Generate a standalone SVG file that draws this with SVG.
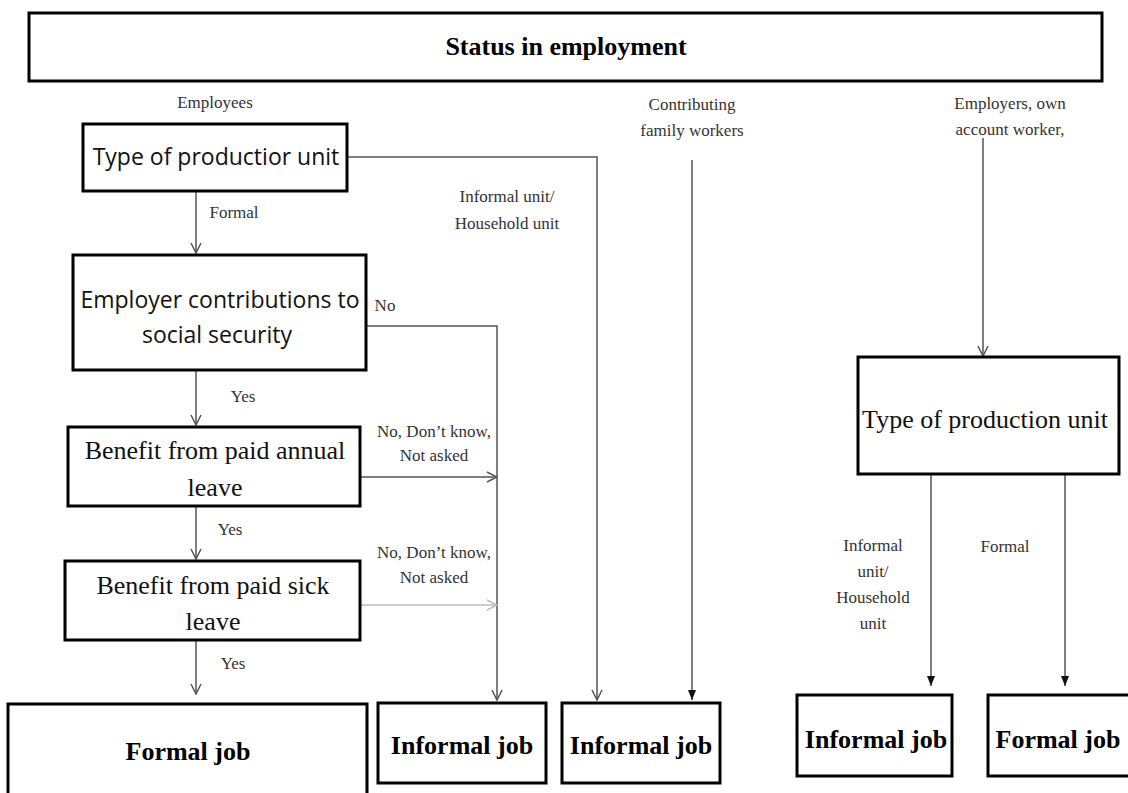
<svg xmlns="http://www.w3.org/2000/svg" width="1128" height="793" viewBox="0 0 1128 793">
<defs>
<style>
.box{fill:#fff;stroke:#000;stroke-width:3}
.ln{fill:none;stroke:#555;stroke-width:1.5}
.lt{fill:none;stroke:#bbb;stroke-width:1.5}
.lab{font-family:"Liberation Serif",serif;font-size:17px;fill:#333;text-anchor:middle}
.ser{font-family:"Liberation Serif",serif;font-size:26px;fill:#111;text-anchor:middle}
.san{font-family:"Open Sans","Liberation Sans",sans-serif;font-size:23px;fill:#111;text-anchor:middle}
.bold{font-family:"Liberation Serif",serif;font-size:26px;font-weight:bold;fill:#000;text-anchor:middle}
</style>
<marker id="open" viewBox="0 0 12 12" refX="11" refY="6" markerWidth="12" markerHeight="12" markerUnits="userSpaceOnUse" orient="auto">
<path d="M1,1 L11,6 L1,11" fill="none" stroke="#555" stroke-width="1.5"/>
</marker>
<marker id="openL" viewBox="0 0 12 12" refX="11" refY="6" markerWidth="12" markerHeight="12" markerUnits="userSpaceOnUse" orient="auto">
<path d="M1,1 L11,6 L1,11" fill="none" stroke="#bbb" stroke-width="1.5"/>
</marker>
<marker id="fill" viewBox="0 0 10 10" refX="10" refY="5" markerWidth="10" markerHeight="10" markerUnits="userSpaceOnUse" orient="auto">
<path d="M0,1 L10,5 L0,9 Z" fill="#111"/>
</marker>
</defs>
<rect width="1128" height="793" fill="#fff"/>

<g id="status">
<rect class="box" x="29" y="13" width="1073" height="68"/>
<text class="bold" x="566" y="55" font-size="25">Status in employment</text>
</g>

<g id="labels">
<text class="lab" x="215" y="108">Employees</text>
<text class="lab" x="234" y="218">Formal</text>
<text class="lab" x="385" y="311">No</text>
<text class="lab" x="507" y="202">Informal unit/</text>
<text class="lab" x="507" y="229">Household unit</text>
<text class="lab" x="692" y="110">Contributing</text>
<text class="lab" x="692" y="136">family workers</text>
<text class="lab" x="1010" y="109">Employers, own</text>
<text class="lab" x="1010" y="135">account worker,</text>
<text class="lab" x="243" y="402">Yes</text>
<text class="lab" x="434" y="437">No, Don’t know,</text>
<text class="lab" x="434" y="461">Not asked</text>
<text class="lab" x="230" y="535">Yes</text>
<text class="lab" x="434" y="558">No, Don’t know,</text>
<text class="lab" x="434" y="583">Not asked</text>
<text class="lab" x="233" y="669">Yes</text>
<text class="lab" x="873" y="551">Informal</text>
<text class="lab" x="873" y="577">unit/</text>
<text class="lab" x="873" y="603">Household</text>
<text class="lab" x="873" y="629">unit</text>
<text class="lab" x="1005" y="552">Formal</text>
</g>

<g id="connectors">
<path class="ln" d="M196,191 V253" marker-end="url(#open)"/>
<path class="ln" d="M347,157 H597 V700" marker-end="url(#open)"/>
<path class="ln" d="M366,326 H497 V700" marker-end="url(#open)"/>
<path class="ln" d="M692,160 V700" marker-end="url(#fill)"/>
<path class="ln" d="M983,138 V356" marker-end="url(#open)"/>
<path class="ln" d="M196,370 V425" marker-end="url(#open)"/>
<path class="ln" d="M360,477 H497" marker-end="url(#open)"/>
<path class="ln" d="M196,506 V559" marker-end="url(#open)"/>
<path class="lt" d="M360,605 H497" marker-end="url(#openL)"/>
<path class="ln" d="M196,640 V694" marker-end="url(#open)"/>
<path class="ln" d="M931,474 V686" marker-end="url(#fill)"/>
<path class="ln" d="M1065,474 V686" marker-end="url(#fill)"/>
</g>

<g id="type-unit-1">
<rect class="box" x="83" y="124" width="264" height="67"/>
<text class="san" x="216" y="165">Type of productior unit</text>
</g>

<g id="employer-contrib">
<rect class="box" x="73" y="255" width="293" height="115"/>
<text class="san" x="220" y="308" font-size="24.5">Employer contributions to</text>
<text class="san" x="217" y="343" font-size="24.5">social security</text>
</g>

<g id="annual-leave">
<rect class="box" x="68" y="427" width="292" height="79"/>
<text class="ser" x="215" y="459">Benefit from paid annual</text>
<text class="ser" x="215" y="496">leave</text>
</g>

<g id="sick-leave">
<rect class="box" x="65" y="561" width="295" height="79"/>
<text class="ser" x="213" y="594">Benefit from paid sick</text>
<text class="ser" x="213" y="630">leave</text>
</g>

<g id="formal-job-1">
<rect class="box" x="8" y="704" width="359" height="95"/>
<text class="bold" x="188" y="760">Formal job</text>
</g>

<g id="informal-job-1">
<rect class="box" x="378" y="703" width="168" height="80"/>
<text class="bold" x="462" y="754">Informal job</text>
</g>

<g id="informal-job-2">
<rect class="box" x="562" y="703" width="158" height="80"/>
<text class="bold" x="641" y="754">Informal job</text>
</g>

<g id="type-unit-2">
<rect class="box" x="858" y="357" width="261" height="117"/>
<text class="ser" x="985" y="428">Type of production unit</text>
</g>

<g id="informal-job-3">
<rect class="box" x="797" y="695" width="155" height="81"/>
<text class="bold" x="876" y="748">Informal job</text>
</g>

<g id="formal-job-2">
<rect class="box" x="988" y="695" width="145" height="81"/>
<text class="bold" x="1058" y="748">Formal job</text>
</g>
</svg>
